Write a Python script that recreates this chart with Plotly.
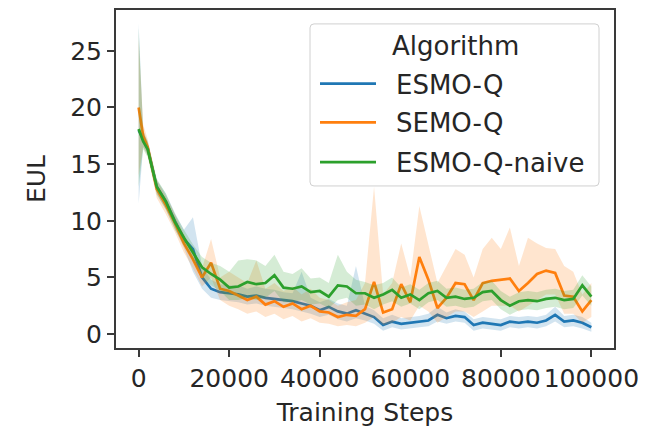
import plotly.graph_objects as go

steps = [0, 1000] + list(range(2000, 100001, 2000))

series_names = ["ESMO-Q", "SEMO-Q", "ESMO-Q-naive"]
legend_title = "Algorithm"
colors = ["#1f77b4", "#ff7f0e", "#2ca02c"]
band_colors = ["rgba(31,119,180,0.2)", "rgba(255,127,14,0.2)", "rgba(44,160,44,0.2)"]

esmo_q_mean = [18.0, 17.2, 16.4, 13.0, 11.7, 10.0, 8.4, 7.5, 5.0, 4.0, 3.7, 3.6,
               3.5, 3.3, 3.4, 3.2, 3.1, 3.0, 2.9, 2.7, 2.5, 2.1, 2.4, 2.0, 1.8, 2.1,
               1.8, 1.5, 0.8, 1.1, 0.9, 1.0, 1.1, 1.2, 1.7, 1.4, 1.6, 1.5, 0.8, 1.0,
               0.9, 0.8, 1.1, 1.0, 1.1, 1.0, 1.2, 1.7, 1.1, 1.2, 1.0, 0.6]
esmo_q_lo = [11.5, 16.5, 15.8, 12.4, 11.0, 9.3, 7.6, 5.5, 4.0, 3.2, 3.0, 2.9,
             2.8, 2.6, 2.7, 2.5, 2.4, 2.3, 2.2, 2.0, 1.8, 1.5, 1.7, 1.3, 1.1, 1.4,
             1.2, 0.9, 0.3, 0.6, 0.4, 0.5, 0.6, 0.7, 1.1, 0.9, 1.1, 1.0, 0.3, 0.5,
             0.4, 0.3, 0.6, 0.5, 0.6, 0.5, 0.7, 1.1, 0.6, 0.7, 0.5, 0.2]
esmo_q_hi = [27.4, 18.0, 17.0, 13.6, 12.4, 10.7, 9.2, 10.3, 6.0, 4.8, 4.4, 4.3,
             4.3, 4.0, 4.2, 4.0, 3.9, 3.7, 3.6, 5.5, 3.2, 2.8, 3.1, 2.7, 2.5, 6.0,
             2.5, 2.1, 1.4, 1.7, 1.4, 1.5, 1.6, 1.8, 2.4, 1.9, 2.2, 2.0, 1.3, 1.5,
             1.4, 1.3, 1.6, 1.5, 1.6, 1.5, 1.7, 2.4, 1.6, 1.7, 1.5, 1.0]

semo_q_mean = [20.0, 17.5, 16.5, 12.8, 11.4, 9.8, 8.0, 6.6, 5.0, 6.3, 4.0, 3.8,
               3.4, 3.0, 3.3, 2.6, 2.9, 2.4, 2.7, 2.2, 2.5, 2.0, 1.9, 1.5, 1.7, 1.6,
               2.2, 4.6, 1.9, 2.2, 4.4, 2.8, 6.8, 4.8, 2.3, 3.2, 4.5, 4.4, 3.0, 4.5,
               4.7, 4.8, 4.9, 3.8, 4.5, 5.3, 5.6, 5.4, 3.4, 3.3, 2.0, 3.0]
semo_q_lo = [14.0, 16.5, 15.8, 12.0, 10.6, 9.0, 7.2, 5.8, 4.2, 5.0, 3.0, 2.5,
             2.2, 1.8, 2.0, 1.5, 1.8, 1.3, 1.6, 1.1, 1.4, 1.0, 0.9, 0.7, 0.8, 0.7,
             1.0, 1.5, 0.8, 1.0, 1.5, 1.2, 2.5, 2.0, 1.0, 1.5, 2.0, 2.0, 1.5, 2.0,
             2.5, 2.5, 2.5, 2.0, 2.5, 3.0, 3.5, 3.5, 1.8, 1.8, 1.0, 1.5]
semo_q_hi = [26.0, 18.5, 17.2, 13.6, 12.2, 10.6, 8.8, 7.4, 5.8, 8.4, 5.0, 5.5,
             5.0, 4.5, 6.5, 4.0, 4.5, 3.8, 4.2, 3.5, 4.0, 3.2, 3.0, 2.5, 2.8, 3.0,
             4.5, 13.0, 3.5, 4.5, 8.0, 5.0, 11.3, 8.0, 4.5, 6.0, 7.5, 7.0, 5.0, 7.5,
             8.5, 7.5, 9.4, 6.0, 8.5, 8.0, 7.6, 7.5, 6.0, 5.5, 3.5, 4.5]

naive_mean = [18.1, 17.0, 16.3, 13.0, 11.7, 9.9, 8.5, 7.2, 5.9, 5.3, 4.8, 4.1,
              4.2, 4.6, 4.4, 4.5, 5.2, 4.1, 4.0, 4.2, 3.7, 3.8, 3.3, 4.3, 4.2, 3.6,
              3.6, 3.2, 3.5, 3.9, 3.2, 3.5, 3.0, 3.6, 3.8, 3.2, 3.3, 3.1, 3.2, 3.7,
              3.8, 3.0, 2.5, 2.9, 3.0, 2.9, 3.1, 3.2, 3.0, 3.1, 4.3, 3.3]
naive_lo = [13.0, 16.3, 15.6, 12.3, 11.0, 9.2, 7.8, 6.5, 5.0, 4.3, 3.8, 3.0,
            3.0, 3.2, 3.0, 3.2, 3.8, 2.8, 2.8, 3.0, 2.6, 2.7, 2.3, 3.0, 3.2, 2.5,
            2.6, 2.2, 2.6, 2.9, 2.4, 2.7, 2.2, 2.8, 3.0, 2.4, 2.5, 2.3, 2.4, 2.9,
            3.0, 2.2, 1.7, 2.1, 2.2, 2.1, 2.3, 2.4, 2.2, 2.3, 3.4, 2.5]
naive_hi = [27.0, 17.8, 17.0, 13.7, 12.4, 10.6, 9.2, 7.9, 6.8, 6.3, 6.0, 5.5,
            6.5, 6.6, 6.5, 6.0, 7.0, 5.5, 5.3, 5.8, 4.9, 5.0, 4.5, 7.0, 5.5, 4.8,
            4.6, 4.3, 4.5, 5.0, 4.1, 4.4, 3.9, 4.5, 4.7, 4.0, 4.1, 3.9, 4.0, 4.6,
            4.7, 3.8, 3.3, 3.7, 3.8, 3.7, 3.9, 4.0, 3.8, 3.9, 5.2, 4.2]

means = [esmo_q_mean, semo_q_mean, naive_mean]
lows = [esmo_q_lo, semo_q_lo, naive_lo]
highs = [esmo_q_hi, semo_q_hi, naive_hi]

x_ticks = [0, 20000, 40000, 60000, 80000, 100000]
y_ticks = [0, 5, 10, 15, 20, 25]

FONT = "DejaVu Sans"
TXT = "#262626"
AX = "#3a3a3a"

W, H = 662, 431
ML, MR, MT, MB = 116, 48, 8, 83
PW, PH = W - ML - MR, H - MT - MB


def px(x):
    return (x - ML) / PW


def py(y):
    return (H - MB - y) / PH


fig = go.Figure()
for name, col, bcol, m, lo, hi in zip(series_names, colors, band_colors, means, lows, highs):
    fig.add_trace(go.Scatter(
        x=steps + steps[::-1], y=hi + lo[::-1], fill="toself", fillcolor=bcol,
        line=dict(width=0), mode="lines", showlegend=False, hoverinfo="skip"))
    fig.add_trace(go.Scatter(
        x=steps, y=m, mode="lines", name=name, showlegend=False,
        line=dict(color=col, width=2.7)))

# legend drawn manually (box, title, samples, labels)
bx0, bx1, by0, by1, r = 310, 599, 22, 185, 4
rx, ry = r / PW, r / PH
X0, X1, Y0, Y1 = px(bx0), px(bx1), py(by1), py(by0)
path = (f"M{X0+rx},{Y0} L{X1-rx},{Y0} Q{X1},{Y0} {X1},{Y0+ry} L{X1},{Y1-ry} "
        f"Q{X1},{Y1} {X1-rx},{Y1} L{X0+rx},{Y1} Q{X0},{Y1} {X0},{Y1-ry} "
        f"L{X0},{Y0+ry} Q{X0},{Y0} {X0+rx},{Y0} Z")
shapes = [dict(type="path", xref="paper", yref="paper", path=path,
               fillcolor="rgba(255,255,255,0.8)", line=dict(color="#d0d0d0", width=1))]
annotations = [dict(xref="paper", yref="paper", x=px(455), y=py(44), text=legend_title,
                    showarrow=False, xanchor="center", yanchor="middle",
                    font=dict(family=FONT, size=26, color=TXT))]
entry_y = [82, 121, 161]
for name, col, ey in zip(series_names, colors, entry_y):
    shapes.append(dict(type="line", xref="paper", yref="paper",
                       x0=px(320), x1=px(376), y0=py(ey), y1=py(ey),
                       line=dict(color=col, width=2.7)))
    annotations.append(dict(xref="paper", yref="paper", x=px(394), y=py(ey + 1), text=name,
                            showarrow=False, xanchor="left", yanchor="middle",
                            font=dict(family=FONT, size=26, color=TXT)))

fig.update_layout(
    width=W, height=H,
    margin=dict(l=ML, r=MR, t=MT, b=MB),
    paper_bgcolor="white", plot_bgcolor="white",
    font=dict(family=FONT, size=25, color=TXT),
    showlegend=False,
    shapes=shapes, annotations=annotations,
)
fig.update_xaxes(
    range=[-5000, 105000], tickvals=x_ticks, ticktext=[str(v) for v in x_ticks],
    tickangle=0, showgrid=False, zeroline=False,
    showline=True, mirror=True, linecolor=AX, linewidth=2,
    ticks="outside", ticklen=7, tickwidth=2, tickcolor=AX,
    tickfont=dict(size=25, color=TXT),
    title=dict(text="Training Steps", font=dict(size=25, color=TXT), standoff=11),
)
fig.update_yaxes(
    range=[-1.23, 28.6], tickvals=y_ticks, ticktext=[str(v) for v in y_ticks],
    showgrid=False, zeroline=False,
    showline=True, mirror=True, linecolor=AX, linewidth=2,
    ticks="outside", ticklen=7, tickwidth=2, tickcolor=AX,
    tickfont=dict(size=25, color=TXT),
    title=dict(text="EUL", font=dict(size=25, color=TXT), standoff=17),
)

fig.write_html("out.html")
